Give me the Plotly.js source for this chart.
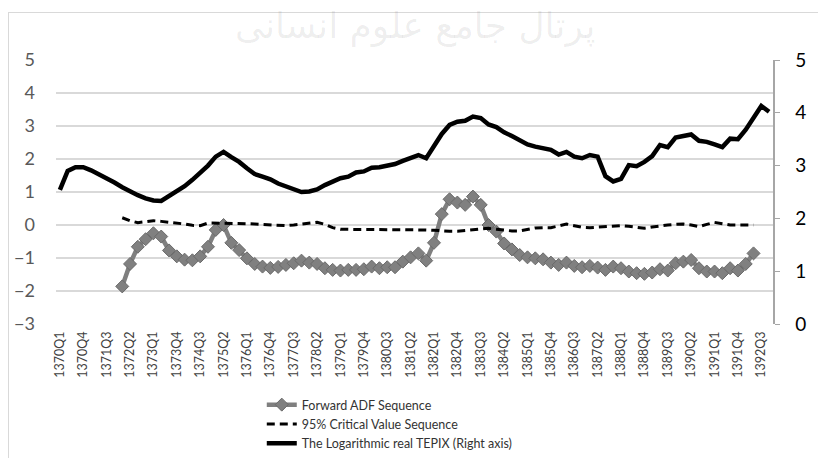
<!DOCTYPE html>
<html>
<head>
<meta charset="utf-8">
<script src="https://cdn.plot.ly/plotly-3.0.1.min.js"></script>
<style>
    body { margin: 0; background: #fff; }
    #frame { position: absolute; left: 8px; top: 12px; width: 830px; height: 460px; border-left: 1px solid #d9d9d9; border-top: 1px solid #d9d9d9; }
    #graf { position: absolute; left: 0; top: 0; width: 818px; height: 458px; }
</style>
</head>
<body>
<div id="frame"></div>
<div id="graf"></div>
<script>
// quarters 1370Q1 .. 1392Q4
let kvartali = [];
for (let leto = 1370; leto <= 1392; leto++) {
    for (let q = 1; q <= 4; q++) {
        kvartali.push(leto + 'Q' + q);
    }
}

// Forward ADF Sequence, from 1372Q1 (left axis)
let adf = [-1.86, -1.18, -0.66, -0.43, -0.25, -0.35, -0.77, -0.95, -1.05, -1.07,
    -0.95, -0.66, -0.15, 0.0, -0.54, -0.76, -1.01, -1.18, -1.26, -1.30,
    -1.27, -1.21, -1.16, -1.08, -1.14, -1.18, -1.31, -1.36, -1.38, -1.36,
    -1.36, -1.34, -1.26, -1.31, -1.28, -1.28, -1.11, -0.98, -0.86, -1.08,
    -0.54, 0.33, 0.78, 0.68, 0.61, 0.86, 0.61, 0.0, -0.2, -0.56,
    -0.74, -0.91, -0.98, -1.01, -1.04, -1.14, -1.21, -1.14, -1.24, -1.28,
    -1.24, -1.29, -1.36, -1.26, -1.31, -1.41, -1.46, -1.48, -1.44, -1.34,
    -1.38, -1.16, -1.11, -1.06, -1.31, -1.41, -1.41, -1.46, -1.31, -1.38,
    -1.18, -0.86];

// 95% Critical Value Sequence, from 1372Q1 (left axis)
let kriticna = [0.22, 0.13, 0.07, 0.11, 0.13, 0.11, 0.09, 0.07, 0.03, -0.01,
    -0.02, 0.06, 0.06, 0.06, 0.05, 0.05, 0.04, 0.03, 0.02, 0.01,
    0.0, -0.02, 0.0, 0.02, 0.05, 0.08, 0.02, -0.08, -0.13, -0.13,
    -0.14, -0.13, -0.13, -0.13, -0.13, -0.13, -0.13, -0.14, -0.14, -0.15,
    -0.16, -0.18, -0.19, -0.19, -0.17, -0.14, -0.11, -0.10, -0.13, -0.16,
    -0.18, -0.18, -0.13, -0.09, -0.08, -0.08, -0.03, 0.03, -0.02, -0.07,
    -0.08, -0.06, -0.05, -0.03, -0.02, -0.04, -0.07, -0.10, -0.06, -0.02,
    0.0, 0.02, 0.03, 0.0, -0.05, 0.02, 0.08, 0.04, 0.0, 0.0,
    0.0, 0.0];

// Logarithmic real TEPIX, from 1370Q1 (right axis)
let tepix = [2.54, 2.90, 2.97, 2.97, 2.91, 2.84, 2.77, 2.68, 2.59, 2.51,
    2.44, 2.38, 2.34, 2.33, 2.42, 2.52, 2.61, 2.73, 2.86, 3.00,
    3.17, 3.26, 3.16, 3.07, 2.95, 2.84, 2.79, 2.74, 2.66, 2.60,
    2.54, 2.50, 2.51, 2.55, 2.63, 2.70, 2.76, 2.79, 2.87, 2.89,
    2.96, 2.97, 2.99, 3.03, 3.09, 3.15, 3.20, 3.14, 3.36, 3.60,
    3.77, 3.83, 3.85, 3.93, 3.90, 3.78, 3.73, 3.63, 3.56, 3.47,
    3.40, 3.36, 3.34, 3.30, 3.21, 3.26, 3.17, 3.14, 3.20, 3.17,
    2.80, 2.70, 2.75, 3.01, 2.99, 3.07, 3.18, 3.39, 3.35, 3.53,
    3.56, 3.59, 3.47, 3.45, 3.40, 3.35, 3.51, 3.50, 3.68, 3.89,
    4.13, 4.02];

let zacetek = kvartali.indexOf('1372Q1');
let pisava = 'Lato, "Open Sans", sans-serif';

let data = [
    {
        x: kvartali.slice(zacetek, zacetek + adf.length),
        y: adf,
        name: 'Forward ADF Sequence',
        type: 'scatter',
        mode: 'lines+markers',
        line: { color: '#7f7f7f', width: 4.5 },
        marker: { symbol: 'diamond', size: 10, color: '#808080', line: { color: '#6a6a6a', width: 1 } }
    },
    {
        x: kvartali.slice(zacetek, zacetek + kriticna.length),
        y: kriticna,
        name: '95% Critical Value Sequence',
        type: 'scatter',
        mode: 'lines',
        line: { color: '#000000', width: 3, dash: '8px,5px' }
    },
    {
        x: kvartali.slice(0, tepix.length),
        y: tepix,
        name: 'The Logarithmic real TEPIX (Right axis)',
        type: 'scatter',
        mode: 'lines',
        yaxis: 'y2',
        line: { color: '#000000', width: 4.5 }
    }
];

let layout = {
    width: 818,
    height: 458,
    margin: { l: 56, r: 45, t: 60, b: 134, autoexpand: false },
    paper_bgcolor: 'rgba(0,0,0,0)',
    plot_bgcolor: 'rgba(0,0,0,0)',
    font: { family: pisava, color: '#404040' },
    showlegend: true,
    legend: {
        x: 0.287, y: -0.25, xanchor: 'left', yanchor: 'top',
        orientation: 'v',
        font: { family: pisava, size: 12.5, color: '#333333' },
        bgcolor: 'rgba(0,0,0,0)'
    },
    xaxis: {
        type: 'category',
        categoryorder: 'array',
        categoryarray: kvartali,
        range: [-0.5, kvartali.length - 0.5],
        tickmode: 'linear', tick0: 0, dtick: 3,
        tickangle: -90,
        ticklabelstandoff: 4,
        tickfont: { family: pisava, size: 12.5, color: '#404040' },
        showgrid: false,
        zeroline: false,
        showline: false,
        ticks: '',
        automargin: false
    },
    yaxis: {
        range: [-3, 5],
        dtick: 1,
        gridcolor: '#d9d9d9',
        gridwidth: 1.5,
        zeroline: false,
        showline: false,
        ticks: '',
        automargin: false,
        ticklabelstandoff: 20,
        tickfont: { family: pisava, size: 18, color: '#595959' }
    },
    yaxis2: {
        overlaying: 'y',
        side: 'right',
        range: [0, 5],
        dtick: 1,
        showgrid: false,
        zeroline: false,
        showline: true,
        linecolor: '#a6a6a6',
        linewidth: 1.5,
        ticks: 'outside',
        ticklen: 5,
        tickcolor: '#a6a6a6',
        automargin: false,
        ticklabelstandoff: 12,
        tickfont: { family: pisava, size: 19, color: '#000000' }
    },
    annotations: [{
        text: 'پرتال جامع علوم انسانی',
        xref: 'paper', yref: 'paper',
        x: 0.5, y: 1.13, xanchor: 'center', yanchor: 'middle',
        showarrow: false,
        font: { family: '"DejaVu Sans", sans-serif', size: 36, color: 'rgba(0,0,0,0.07)' }
    }]
};

Plotly.newPlot('graf', data, layout, { staticPlot: true });
</script>
</body>
</html>
